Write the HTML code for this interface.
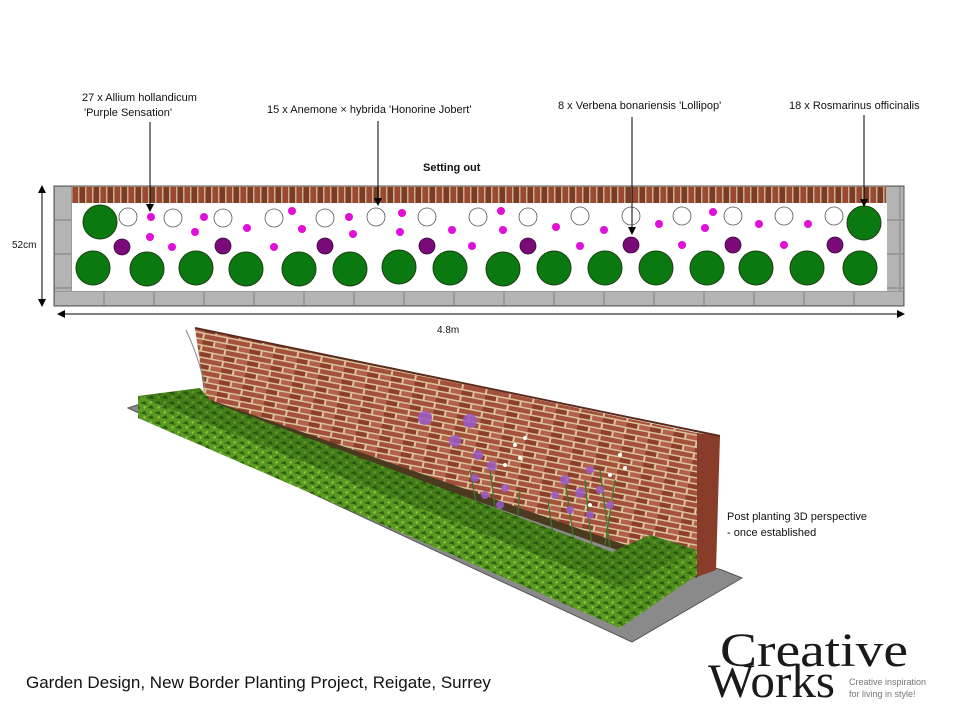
<!DOCTYPE html>
<html><head><meta charset="utf-8"><style>
html,body{margin:0;padding:0;background:#fff;}
svg{display:block;}
.s{font-family:"Liberation Sans",sans-serif;}
.serif{font-family:"Liberation Serif",serif;}
</style></head><body>
<svg width="960" height="720" viewBox="0 0 960 720" xmlns="http://www.w3.org/2000/svg">
<defs>
<pattern id="brick" width="7" height="18" patternUnits="userSpaceOnUse" x="72" y="186">
<rect width="7" height="18" fill="#c9b088"/>
<rect x="0.5" y="1" width="5.5" height="16" fill="#9a4a33"/>
</pattern>
<pattern id="brick2" width="14" height="18" patternUnits="userSpaceOnUse" x="72" y="186">
<rect x="7.5" y="1" width="5.5" height="16" fill="#7c3a28"/>
</pattern>
<pattern id="brick3" width="24" height="12" patternUnits="userSpaceOnUse" patternTransform="rotate(11)">
<rect width="24" height="12" fill="#d9c49c"/>
<rect x="1" y="1" width="22" height="4.5" fill="#a5503a"/>
<rect x="-11" y="7" width="22" height="4.5" fill="#8e3e2c"/>
<rect x="13" y="7" width="22" height="4.5" fill="#b3614a"/>
</pattern>
<pattern id="pave" width="50" height="15" patternUnits="userSpaceOnUse" x="54" y="291">
<rect width="50" height="15" fill="#999"/>
<rect x="1" y="1" width="48" height="13" fill="#b4b4b4"/>
</pattern>
<pattern id="paveV" width="18" height="34" patternUnits="userSpaceOnUse" x="54" y="186">
<rect width="18" height="34" fill="#999"/>
<rect x="1" y="1" width="16" height="32" fill="#b4b4b4"/>
</pattern>
<pattern id="hedge" width="14" height="10" patternUnits="userSpaceOnUse">
<rect width="14" height="10" fill="#5a9a22"/>
<path d="M0 3 L5 1 L7 5 Z M7 8 L12 5 L14 9 Z" fill="#2d5e10"/>
<path d="M3 7 L6 6 L5 9 Z M9 2 L12 1 L11 4 Z" fill="#9ccf48"/>
</pattern>
<marker id="ah" markerWidth="8" markerHeight="8" refX="7" refY="4" orient="auto" markerUnits="userSpaceOnUse"><path d="M0 0 L8 4 L0 8 Z" fill="#000"/></marker>
</defs>

<g class="s" font-size="11" fill="#111">
<text x="82" y="101">27 x Allium hollandicum</text>
<text x="84" y="116">'Purple Sensation'</text>
<text x="267" y="113">15 x Anemone  × hybrida 'Honorine Jobert'</text>
<text x="558" y="109">8 x Verbena bonariensis 'Lollipop'</text>
<text x="789" y="109">18 x Rosmarinus officinalis</text>
<text x="423" y="171" font-weight="bold">Setting out</text>
<text x="12" y="248" font-size="10">52cm</text>
<text x="437" y="333" font-size="10">4.8m</text>
<text x="727" y="520">Post planting 3D perspective</text>
<text x="727" y="536">- once established</text>
</g>

<!-- plan -->
<rect x="54" y="186" width="850" height="120" fill="url(#paveV)"/>
<rect x="54" y="291" width="850" height="15" fill="url(#pave)"/>
<rect x="72" y="186" width="814" height="18" fill="url(#brick)"/>
<rect x="72" y="186" width="814" height="18" fill="url(#brick2)"/>
<rect x="72" y="203" width="815" height="88" fill="#fff"/>
<rect x="54" y="186" width="850" height="120" fill="none" stroke="#555" stroke-width="1"/>
<g fill="#0a7a10" stroke="#1e3d12" stroke-width="1">
<circle cx="100" cy="222" r="17"/><circle cx="864" cy="223" r="17"/>
<circle cx="93" cy="268" r="17"/><circle cx="147" cy="269" r="17"/><circle cx="196" cy="268" r="17"/><circle cx="246" cy="269" r="17"/><circle cx="299" cy="269" r="17"/><circle cx="350" cy="269" r="17"/><circle cx="399" cy="267" r="17"/><circle cx="450" cy="268" r="17"/><circle cx="503" cy="269" r="17"/><circle cx="554" cy="268" r="17"/><circle cx="605" cy="268" r="17"/><circle cx="656" cy="268" r="17"/><circle cx="707" cy="268" r="17"/><circle cx="756" cy="268" r="17"/><circle cx="807" cy="268" r="17"/><circle cx="860" cy="268" r="17"/>
</g>
<g fill="#7a0a78" stroke="#3a0a3a" stroke-width="0.8">
<circle cx="122" cy="247" r="8"/><circle cx="223" cy="246" r="8"/><circle cx="325" cy="246" r="8"/><circle cx="427" cy="246" r="8"/><circle cx="528" cy="246" r="8"/><circle cx="631" cy="245" r="8"/><circle cx="733" cy="245" r="8"/><circle cx="835" cy="245" r="8"/>
</g>
<g fill="#fff" stroke="#555" stroke-width="0.8">
<circle cx="128" cy="217" r="9"/><circle cx="173" cy="218" r="9"/><circle cx="223" cy="218" r="9"/><circle cx="274" cy="218" r="9"/><circle cx="325" cy="218" r="9"/><circle cx="376" cy="217" r="9"/><circle cx="427" cy="217" r="9"/><circle cx="478" cy="217" r="9"/><circle cx="528" cy="217" r="9"/><circle cx="580" cy="216" r="9"/><circle cx="631" cy="216" r="9"/><circle cx="682" cy="216" r="9"/><circle cx="733" cy="216" r="9"/><circle cx="784" cy="216" r="9"/><circle cx="834" cy="216" r="9"/>
</g>
<g fill="#e010d8">
<circle cx="151" cy="217" r="4"/><circle cx="204" cy="217" r="4"/><circle cx="195" cy="232" r="4"/><circle cx="150" cy="237" r="4"/><circle cx="172" cy="247" r="4"/><circle cx="247" cy="228" r="4"/><circle cx="292" cy="211" r="4"/><circle cx="302" cy="229" r="4"/><circle cx="274" cy="247" r="4"/><circle cx="349" cy="217" r="4"/><circle cx="353" cy="234" r="4"/><circle cx="402" cy="213" r="4"/><circle cx="400" cy="232" r="4"/><circle cx="452" cy="230" r="4"/><circle cx="472" cy="246" r="4"/><circle cx="501" cy="211" r="4"/><circle cx="503" cy="230" r="4"/><circle cx="556" cy="227" r="4"/><circle cx="604" cy="230" r="4"/><circle cx="580" cy="246" r="4"/><circle cx="659" cy="224" r="4"/><circle cx="713" cy="212" r="4"/><circle cx="705" cy="228" r="4"/><circle cx="682" cy="245" r="4"/><circle cx="759" cy="224" r="4"/><circle cx="784" cy="245" r="4"/><circle cx="808" cy="224" r="4"/>
</g>

<g stroke="#000" stroke-width="1" fill="none">
<line x1="150" y1="122" x2="150" y2="211" marker-end="url(#ah)"/>
<line x1="378" y1="121" x2="378" y2="205" marker-end="url(#ah)"/>
<line x1="632" y1="117" x2="632" y2="234" marker-end="url(#ah)"/>
<line x1="864" y1="115" x2="864" y2="206" marker-end="url(#ah)"/>
<line x1="42" y1="194" x2="42" y2="186" marker-end="url(#ah)"/>
<line x1="42" y1="190" x2="42" y2="306" marker-end="url(#ah)"/>
<line x1="66" y1="314" x2="58" y2="314" marker-end="url(#ah)"/>
<line x1="62" y1="314" x2="904" y2="314" marker-end="url(#ah)"/>
</g>

<!-- 3D perspective -->
<polygon points="128,408 146,402 722,570 742,578 632,642" fill="#8a8a8a" stroke="#555" stroke-width="1"/>
<polygon points="195,328 697,433 697,577 205,400" fill="url(#brick3)"/>
<polygon points="697,433 720,436 716,570 697,577" fill="#8a3c2a"/>
<line x1="195" y1="328" x2="720" y2="436" stroke="#5a2a1a" stroke-width="2"/>
<path d="M186 330 Q200 360 205 388" stroke="#888" fill="none"/>
<!-- bed strip -->
<polygon points="205,398 697,570 697,578 205,406" fill="#4a3a20"/>
<!-- plants -->
<g stroke="#3c7a2a" stroke-width="1.3" fill="none">
<path d="M462 500 L452 525 M470 470 L480 525 M490 470 L498 530 M520 490 L515 545 M548 500 L555 550 M565 480 L575 548 M585 480 L592 548 M600 470 L610 548 M615 480 L605 545"/>
</g>
<g fill="#9a5cc8" opacity="0.85">
<circle cx="425" cy="418" r="7"/><circle cx="470" cy="421" r="7"/><circle cx="455" cy="441" r="6"/>
<circle cx="478" cy="455" r="5"/><circle cx="492" cy="466" r="5"/><circle cx="475" cy="478" r="4"/><circle cx="505" cy="488" r="4"/><circle cx="485" cy="495" r="4"/><circle cx="500" cy="505" r="4"/>
<circle cx="565" cy="480" r="5"/><circle cx="580" cy="493" r="5"/><circle cx="600" cy="490" r="4"/><circle cx="570" cy="510" r="4"/><circle cx="590" cy="470" r="4"/><circle cx="555" cy="495" r="4"/><circle cx="590" cy="515" r="4"/><circle cx="610" cy="505" r="4"/>
</g>
<g fill="#fff">
<circle cx="515" cy="445" r="2"/><circle cx="525" cy="438" r="2"/><circle cx="505" cy="465" r="2"/><circle cx="520" cy="458" r="2"/><circle cx="610" cy="475" r="2"/><circle cx="625" cy="468" r="2"/><circle cx="590" cy="505" r="2"/><circle cx="620" cy="455" r="2"/>
</g>
<!-- hedge -->
<polygon points="138,396 200,388 212,402 612,552 650,535 697,550 620,588" fill="url(#hedge)"/>
<polygon points="138,396 200,388 212,402 612,552 650,535 697,550 620,588" fill="#1e4a08" opacity="0.35"/>
<polygon points="138,396 620,588 620,628 138,418" fill="url(#hedge)"/>
<polygon points="620,588 697,550 697,575 620,628" fill="url(#hedge)"/>
<polygon points="620,588 697,550 697,575 620,628" fill="#1e4a08" opacity="0.15"/>

<!-- logo -->
<text class="serif" x="720" y="666" font-size="48" fill="#1a1a1a" textLength="188" lengthAdjust="spacingAndGlyphs">Creative</text>
<text class="serif" x="708" y="697" font-size="48" fill="#1a1a1a" textLength="127" lengthAdjust="spacingAndGlyphs">Works</text>
<text class="s" x="849" y="685" font-size="9" fill="#777">Creative inspiration</text>
<text class="s" x="849" y="697" font-size="9" fill="#777">for living in style!</text>

<text class="s" x="26" y="688" font-size="17" fill="#111">Garden Design, New Border Planting Project, Reigate, Surrey</text>
</svg>
</body></html>
